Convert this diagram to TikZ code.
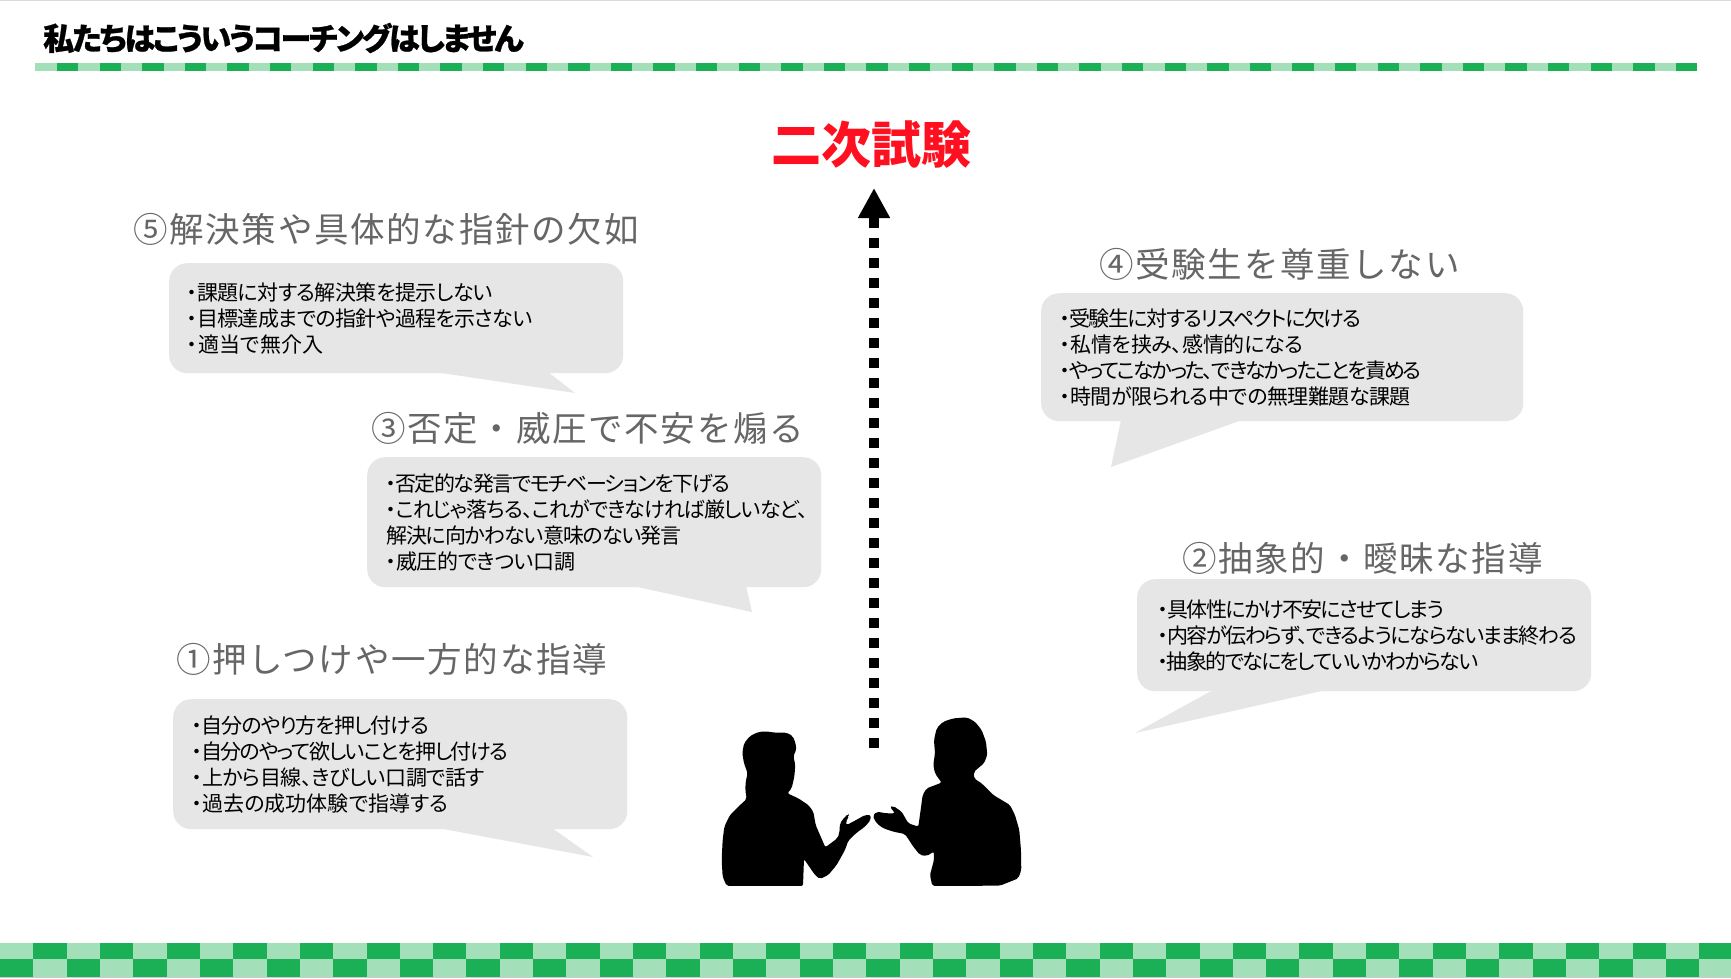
\documentclass[tikz,border=0pt]{standalone}
\usepackage{fontspec}
\usetikzlibrary{arrows.meta}
\setmainfont{Noto Sans CJK JP}[RawFeature=+palt]
\newfontfamily\headfont{Noto Sans CJK JP}[LetterSpace=5]
\newfontfamily\titlefont{Noto Sans CJK JP}[RawFeature=+palt,LetterSpace=-6.8,BoldFeatures={FakeBold=0.8}]
\newcommand{\ls}[2]{{\addfontfeature{LetterSpace=#1}#2}}
\definecolor{gdark}{HTML}{1BB055}
\definecolor{glight}{HTML}{A3DFB9}
\definecolor{bubblegray}{HTML}{E6E6E6}
\definecolor{headgray}{HTML}{666666}
\definecolor{titlered}{HTML}{FF1020}
\tikzset{
  bubble/.style={fill=bubblegray,rounded corners=18pt,inner sep=0pt,anchor=north west},
  tailshape/.style={fill=bubblegray},
  heading/.style={font=\headfont\fontsize{34.5}{38}\selectfont,text=headgray,anchor=west,inner sep=0pt},
  body/.style={font=\fontsize{21}{26}\selectfont,align=left,anchor=west,inner sep=0pt,text=black},
  person/.style={fill=black,rounded corners=2pt},
}
\begin{document}
\begin{tikzpicture}[x=1pt,y=-1pt]
\useasboundingbox (0,0) rectangle (1731,978);
\fill[white] (0,0) rectangle (1731,978);
\fill[black!14] (0,0) rectangle (1731,1);
\fill[black!20] (0,977) rectangle (1731,978);
% top band
\fill[glight] (35,63) rectangle (1695,71);
\foreach \i in {0,...,38}{\fill[gdark] ({57+42.6*\i},63) rectangle ({78.3+42.6*\i},71);}
% bottom checker
\foreach \i in {0,...,51}{
  \pgfmathsetmacro{\xa}{33.32*\i}
  \pgfmathsetmacro{\xb}{33.32*(\i+1)}
  \pgfmathtruncatemacro{\odd}{mod(\i,2)}
  \ifnum\odd=0
    \fill[glight] (\xa,943) rectangle (\xb,959);
    \fill[gdark] (\xa,959) rectangle (\xb,977);
  \else
    \fill[gdark] (\xa,943) rectangle (\xb,959);
    \fill[glight] (\xa,959) rectangle (\xb,977);
  \fi
}
\node[font=\titlefont\bfseries\fontsize{31}{36}\selectfont,anchor=west,inner sep=0pt] (title) at (43,38) {私たちはこういうコーチングはしません};
\node[font=\bfseries\fontsize{50}{56}\selectfont,text=titlered,inner sep=0pt] (goal) at (871,145) {二次試験};
% arrow
\coordinate (arrowfrom) at (874,748);
\coordinate (arrowto) at (874,188);
\draw[line width=10pt,dash pattern=on 10pt off 10pt,-{Triangle[length=30pt,width=30pt]}] (arrowfrom) -- (arrowto);
% bubbles
\node[bubble,minimum width=454pt,minimum height=110pt] (b5) at (169,263) {};
\fill[tailshape] (435,372) -- (548,372) -- (575,393) -- cycle;
\node[bubble,minimum width=454pt,minimum height=130pt] (b3) at (367,457) {};
\fill[tailshape] (633,586) -- (746,586) -- (752,612) -- cycle;
\node[bubble,minimum width=454pt,minimum height=130pt] (b1) at (173,699) {};
\fill[tailshape] (438,828) -- (552,828) -- (593,857) -- cycle;
\node[bubble,minimum width=482pt,minimum height=128pt] (b4) at (1041,293) {};
\fill[tailshape] (1121,420) -- (1242,420) -- (1111,467) -- cycle;
\node[bubble,minimum width=454pt,minimum height=112pt] (b2) at (1137,579) {};
\fill[tailshape] (1213,690) -- (1326,690) -- (1135,733) -- cycle;
% headings
\node[heading] (h5) at (133,229) {⑤解決策や具体的な指針の欠如};
\node[heading] (h3) at (371,428) {③否定・威圧で不安を煽る};
\node[heading] (h1) at (176,659) {①押しつけや一方的な指導};
\node[heading] (h4) at (1099,264) {④受験生を尊重しない};
\node[heading] (h2) at (1182,558) {②抽象的・曖昧な指導};
% bodies
\node[body] (t5) at (187,318) {\ls{-2.6}{・課題に対する解決策を提示しない}\\\ls{-3.2}{・目標達成までの指針や過程を示さない}\\\ls{1.5}{・適当で無介入}};
\node[body] (t3) at (386,523) {\ls{-6.9}{・否定的な発言でモチベーションを下げる}\\\ls{-4.4}{・これじゃ落ちる、これができなければ厳しいなど、}\\\ls{-4.9}{解決に向かわない意味のない発言}\\\ls{-2.1}{・威圧的できつい口調}};
\node[body] (t1) at (192,765) {\ls{-4.9}{・自分のやり方を押し付ける}\\\ls{-7}{・自分のやって欲しいことを押し付ける}\\\ls{-2.3}{・上から目線、きびしい口調で話す}\\・過去の成功体験で指導する};
\node[body] (t4) at (1060,357.5) {\ls{-6.8}{・受験生に対するリスペクトに欠ける}\\\ls{-1.2}{・私情を挟み、感情的になる}\\\ls{-9.6}{・やってこなかった、できなかったことを責める}\\\ls{-2.5}{・時間が限られる中での無理難題な課題}};
\node[body] (t2) at (1158,636) {\ls{-7.2}{・具体性にかけ不安にさせてしまう}\\\ls{-7}{・内容が伝わらず、できるようにならないまま終わる}\\\ls{-8.2}{・抽象的でなにをしていいかわからない}};
% people
\begin{scope}[shift={(680,700)},x=0.3333pt,y=-0.3333pt]
\fill[person] (140,558) -- (128,530) -- (125,480) -- (128,420) -- (133,380) -- (150,345) -- (175,320) -- (200,297) -- (196,270) -- (197,245) -- (203,220) -- (192,190) -- (187,160) -- (192,130) -- (210,108) -- (235,96) -- (258,94) -- (285,98) -- (320,98) -- (338,108) -- (347,130) -- (349,150) -- (340,168) -- (346,195) -- (343,230) -- (335,265) -- (322,280) -- (355,295) -- (385,315) -- (400,335) -- (407,375) -- (420,405) -- (436,442) -- (472,415) -- (478,400) -- (480,370) -- (495,350) -- (505,342) -- (507,347) -- (497,368) -- (500,375) -- (525,362) -- (555,345) -- (572,345) -- (572,360) -- (555,380) -- (530,398) -- (505,422) -- (495,450) -- (470,495) -- (445,525) -- (420,537) -- (405,525) -- (372,477) -- (369,558) -- cycle;
\fill[person] (757,558) -- (750,525) -- (762,480) -- (762,455) -- (740,468) -- (720,465) -- (700,440) -- (675,402) -- (640,395) -- (610,385) -- (590,370) -- (578,348) -- (590,335) -- (620,340) -- (645,340) -- (630,320) -- (640,318) -- (665,335) -- (685,370) -- (715,380) -- (722,330) -- (728,285) -- (740,265) -- (785,248) -- (765,220) -- (760,195) -- (765,160) -- (762,120) -- (770,85) -- (790,65) -- (820,55) -- (860,52) -- (885,65) -- (905,90) -- (918,125) -- (922,165) -- (912,190) -- (882,215) -- (882,235) -- (905,250) -- (940,285) -- (990,315) -- (1005,345) -- (1018,390) -- (1023,450) -- (1024,510) -- (1015,535) -- (960,557) -- cycle;
\end{scope}
\end{tikzpicture}
\end{document}
